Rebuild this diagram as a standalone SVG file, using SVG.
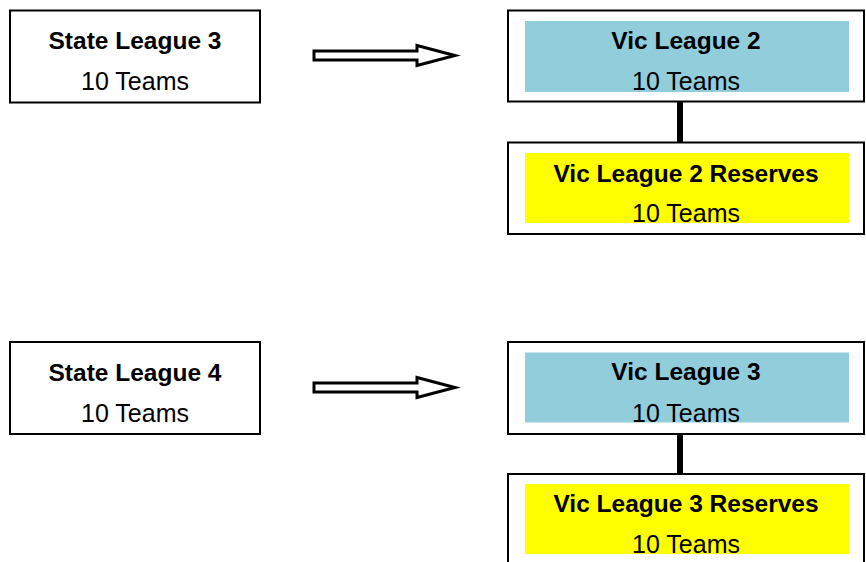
<svg xmlns="http://www.w3.org/2000/svg" width="866" height="562" viewBox="0 0 866 562">
<style>
.box{fill:#fff;stroke:#000;stroke-width:2}
.blue{fill:#92CDDC}
.yel{fill:#FFFF00}
.t{font-family:"Liberation Sans",Arial,sans-serif;fill:#000;text-anchor:middle}
.b{font-weight:bold;font-size:24.5px}
.r{font-size:25px}
.arr{fill:#fff;stroke:#000;stroke-width:3;stroke-linejoin:miter}
.con{stroke:#000;stroke-width:6}
</style>
<rect width="866" height="562" fill="#fff"/>
<g id="connectors">
<polygon class="arr" points="314,51 417,51 417,45.5 455,55.5 417,65.5 417,60 314,60"/>
<polygon class="arr" points="314,383 417,383 417,377.5 455,387.5 417,397.5 417,392 314,392"/>
<line class="con" x1="680" y1="102" x2="680" y2="143"/>
<line class="con" x1="680" y1="434" x2="680" y2="475"/>
</g>
<g id="state-league-3">
<rect class="box" x="10" y="10.5" width="250" height="92"/>
<text class="t b" x="135" y="49">State League 3</text>
<text class="t r" x="135" y="90">10 Teams</text>
</g>
<g id="vic-league-2">
<rect class="box" x="508" y="10.5" width="356" height="91"/>
<rect class="blue" x="525" y="21" width="324" height="71"/>
<text class="t b" x="686" y="49">Vic League 2</text>
<text class="t r" x="686" y="90">10 Teams</text>
</g>
<g id="vic-league-2-reserves">
<rect class="box" x="508" y="142.5" width="356" height="91.5"/>
<rect class="yel" x="525" y="153" width="324" height="70"/>
<text class="t b" x="686" y="181.5">Vic League 2 Reserves</text>
<text class="t r" x="686" y="221.5">10 Teams</text>
</g>
<g id="state-league-4">
<rect class="box" x="10" y="342" width="250" height="92"/>
<text class="t b" x="135" y="381">State League 4</text>
<text class="t r" x="135" y="422">10 Teams</text>
</g>
<g id="vic-league-3">
<rect class="box" x="508" y="342" width="356" height="92"/>
<rect class="blue" x="525" y="352.5" width="324" height="70"/>
<text class="t b" x="686" y="380">Vic League 3</text>
<text class="t r" x="686" y="421.5">10 Teams</text>
</g>
<g id="vic-league-3-reserves">
<rect class="box" x="508" y="474" width="356" height="100"/>
<rect class="yel" x="525" y="484" width="324" height="70"/>
<text class="t b" x="686" y="511.5">Vic League 3 Reserves</text>
<text class="t r" x="686" y="552.5">10 Teams</text>
</g>
</svg>
